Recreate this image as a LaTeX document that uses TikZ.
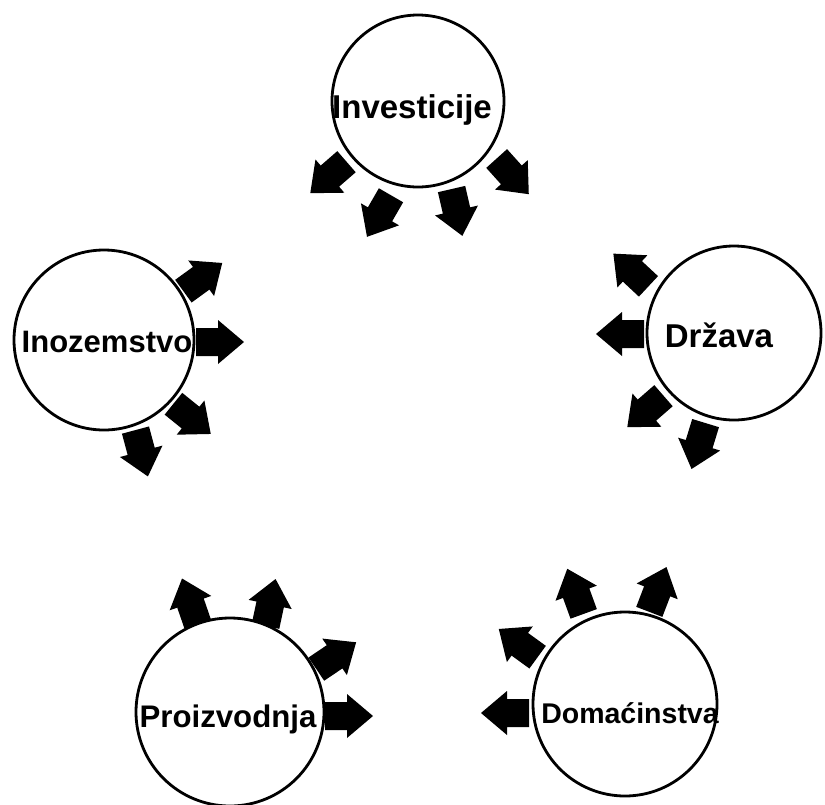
\documentclass[tikz,border=0pt]{standalone}
\usepackage{fontspec}
\setmainfont{Liberation Sans}
\begin{document}
\begin{tikzpicture}[x=1pt,y=-1pt]
\useasboundingbox (0,0) rectangle (825,804);
\tikzset{
  barrow/.pic={\fill[black] (-2,-14)--(20,-14)--(20,-22)--(46,0)--(20,22)--(20,14)--(-2,14)--cycle;},
  circ/.style={circle, draw=black, line width=2.8pt, inner sep=0pt, fill=white},
  lbl/.style={anchor=base, inner sep=0pt}
}
% arrows around Investicije
\pic[rotate=-139] at (345,163) {barrow};
\pic[rotate=-120] at (390,197) {barrow};
\pic[rotate=-77]  at (452,191) {barrow};
\pic[rotate=-48]  at (498,160) {barrow};
% arrows around Inozemstvo
\pic[rotate=36]  at (185,290) {barrow};
\pic[rotate=0]   at (198,342) {barrow};
\pic[rotate=-39] at (175,405) {barrow};
\pic[rotate=-75] at (136,432) {barrow};
% arrows around Drzava
\pic[rotate=137]  at (647,285) {barrow};
\pic[rotate=180]  at (642,334) {barrow};
\pic[rotate=-139] at (662,397) {barrow};
\pic[rotate=-107] at (705,425) {barrow};
% arrows around Proizvodnja
\pic[rotate=109] at (197,622) {barrow};
\pic[rotate=78]  at (266,624) {barrow};
\pic[rotate=34]  at (318,668) {barrow};
\pic[rotate=0]   at (327,716) {barrow};
% arrows around Domacinstva
\pic[rotate=180] at (527,713) {barrow};
\pic[rotate=144] at (536,656) {barrow};
\pic[rotate=110] at (583,612) {barrow};
\pic[rotate=69]  at (650,610) {barrow};
% circles
\node[circ, minimum size=172pt] (inv) at (418,101) {};
\node[circ, minimum size=180pt] (ino) at (104,340) {};
\node[circ, minimum size=174pt] (drz) at (734,333) {};
\node[circ, minimum size=188pt] (pro) at (230,712) {};
\node[circ, minimum size=184pt] (dom) at (625,704) {};
% labels
\node[lbl, font=\bfseries\fontsize{33}{38}\selectfont] (invt) at (412,118) {Investicije};
\node[lbl, font=\bfseries\fontsize{31}{36}\selectfont] (inot) at (107,352) {Inozemstvo};
\node[lbl, font=\bfseries\fontsize{33}{38}\selectfont] (drzt) at (719,347) {Država};
\node[lbl, font=\bfseries\fontsize{31.2}{36}\selectfont] (prot) at (228,727) {Proizvodnja};
\node[lbl, font=\bfseries\fontsize{28.5}{33}\selectfont] (domt) at (630,723) {Domaćinstva};
\end{tikzpicture}
\end{document}
